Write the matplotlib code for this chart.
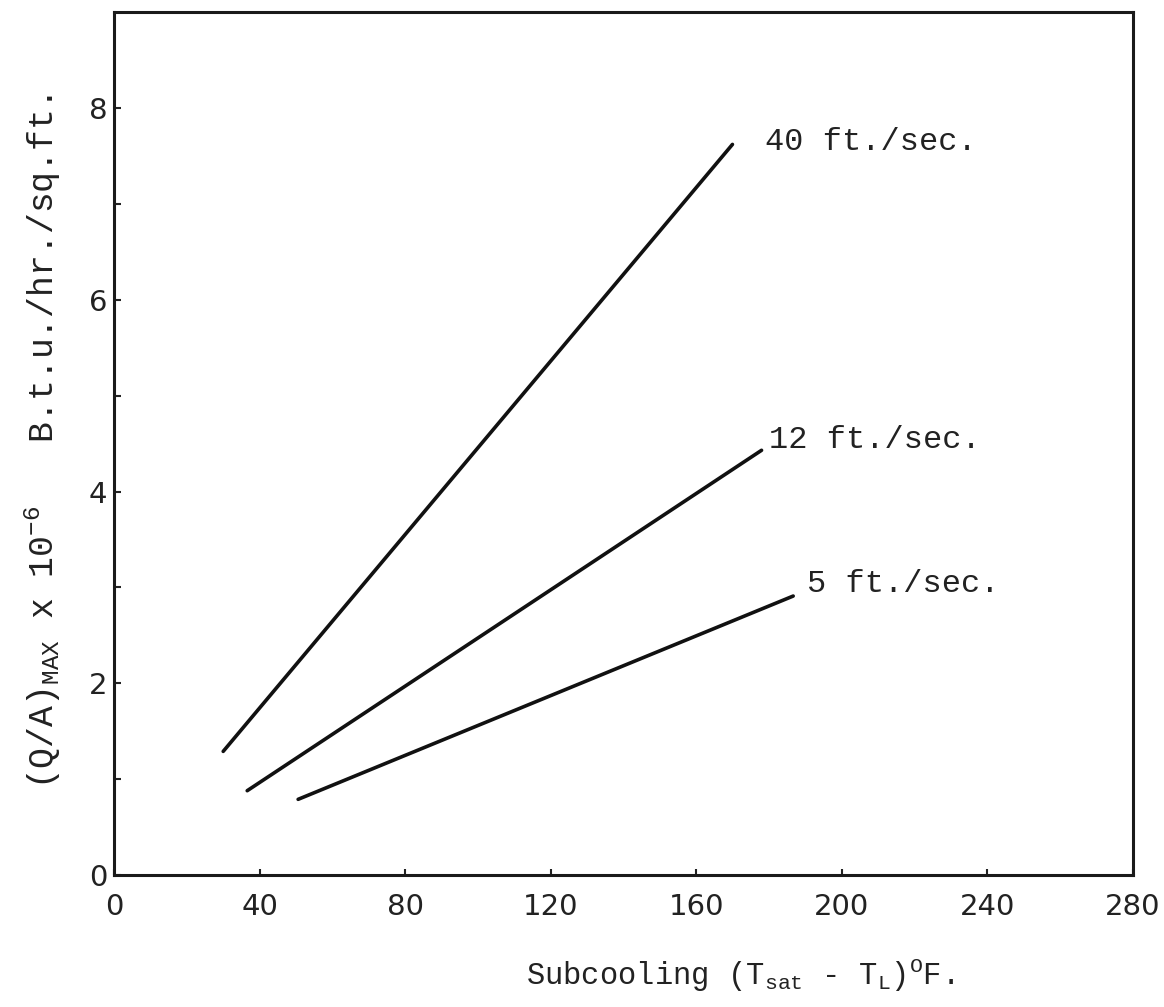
import matplotlib
matplotlib.use("Agg")
import matplotlib.pyplot as plt
import numpy as np

# データ
velocities = ["40 ft./sec.", "12 ft./sec.", "5 ft./sec."]
subcool_start = [30, 36.6, 50.6]
subcool_end = [170, 178, 186.7]
qmax_start = [1.29, 0.88, 0.79]
qmax_end = [7.62, 4.43, 2.91]
label_x = [179, 180, 190.5]
label_y = [7.65, 4.54, 3.04]

x_ticks = [0, 40, 80, 120, 160, 200, 240, 280]
y_ticks = [0, 1, 2, 3, 4, 5, 6, 7, 8]
y_ticklabels = ["0", "", "2", "", "4", "", "6", "", "8"]

# タイプライター風フォント
mono = "Liberation Mono"
plt.rcParams["mathtext.fontset"] = "custom"
plt.rcParams["mathtext.rm"] = mono
plt.rcParams["mathtext.it"] = mono
plt.rcParams["mathtext.bf"] = mono

fig = plt.figure(figsize=(11.64, 10.07), dpi=100)
ax = fig.add_axes([0.098, 0.131, 0.875, 0.857])

for i in range(len(velocities)):
    ax.plot([subcool_start[i], subcool_end[i]], [qmax_start[i], qmax_end[i]],
            color="#111111", linewidth=2.6, solid_capstyle="round")
    ax.text(label_x[i], label_y[i], velocities[i], fontsize=23, family=mono,
            ha="left", va="center", color="#222222")

ax.set_xlim(0, 280)
ax.set_ylim(0, 9)
ax.set_xticks(x_ticks)
ax.set_xticklabels([str(v) for v in x_ticks])
ax.set_yticks(y_ticks)
ax.set_yticklabels(y_ticklabels)

ax.tick_params(axis="x", direction="in", length=4, width=1.5, pad=13,
               labelsize=21, colors="#222222")
ax.tick_params(axis="y", direction="in", length=5, width=1.5, pad=5,
               labelsize=21, colors="#222222")
for s in ax.spines.values():
    s.set_linewidth(2.2)
    s.set_color("#1a1a1a")

fig.text(0.636, 0.032, r"Subcooling (T$_{\mathrm{sat}}$ - T$_{\mathrm{L}}$)$^{\mathrm{O}}$F.",
         fontsize=22, family=mono, ha="center", va="center", color="#222222")
fig.text(0.037, 0.561,
         r"(Q/A)$_{\mathrm{MAX}}$ x 10$^{-6}$   B.t.u./hr./sq.ft.",
         fontsize=25, family=mono, ha="center", va="center", rotation=90,
         color="#222222")

fig.savefig("out.png", dpi=100)
